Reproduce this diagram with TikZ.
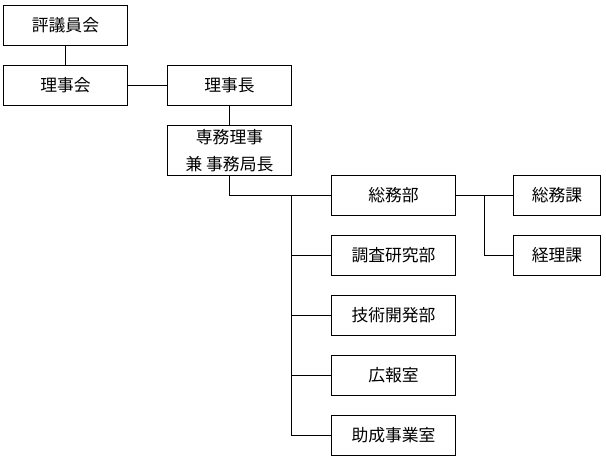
\documentclass[tikz,border=0pt]{standalone}
\usepackage{fontspec}
\setmainfont{Noto Sans CJK JP}
\begin{document}
\begin{tikzpicture}[x=1pt,y=-1pt,line width=1pt,
  box/.style={draw=black,rectangle,inner sep=0pt,minimum width=124pt,minimum height=40pt,font=\fontsize{16.8}{26.5}\selectfont,align=center},
  sbox/.style={box,minimum width=87pt},
  conn/.style={draw=black,line width=1pt}]
\useasboundingbox (0,0) rectangle (606,458);
\node[box] (hyogi) at (65.5,25.5) {評議員会};
\node[box] (rijikai) at (65.5,85.5) {理事会};
\node[box] (rijicho) at (229.5,85.5) {理事長};
\node[box,minimum height=50pt] (senmu) at (229.5,150.5) {専務理事\\兼 事務局長};
\node[box] (somubu) at (393.5,195.5) {総務部};
\node[box] (chosa) at (393.5,255.5) {調査研究部};
\node[box] (gijutsu) at (393.5,315.5) {技術開発部};
\node[box] (koho) at (393.5,375.5) {広報室};
\node[box] (josei) at (393.5,435.5) {助成事業室};
\node[sbox] (somuka) at (557,195.5) {総務課};
\node[sbox] (keiri) at (557,255.5) {経理課};
\coordinate (trunk) at (291.5,195.5);
\coordinate (sub) at (484.5,195.5);
\draw[conn] (hyogi.south) -- (rijikai.north);
\draw[conn] (rijikai.east) -- (rijicho.west);
\draw[conn] (rijicho.south) -- (senmu.north);
\draw[conn] (senmu.south) |- (somubu.west);
\draw[conn] (trunk) |- (josei.west);
\draw[conn] (trunk |- chosa.west) -- (chosa.west);
\draw[conn] (trunk |- gijutsu.west) -- (gijutsu.west);
\draw[conn] (trunk |- koho.west) -- (koho.west);
\draw[conn] (somubu.east) -- (somuka.west);
\draw[conn] (sub) |- (keiri.west);
\end{tikzpicture}
\end{document}
